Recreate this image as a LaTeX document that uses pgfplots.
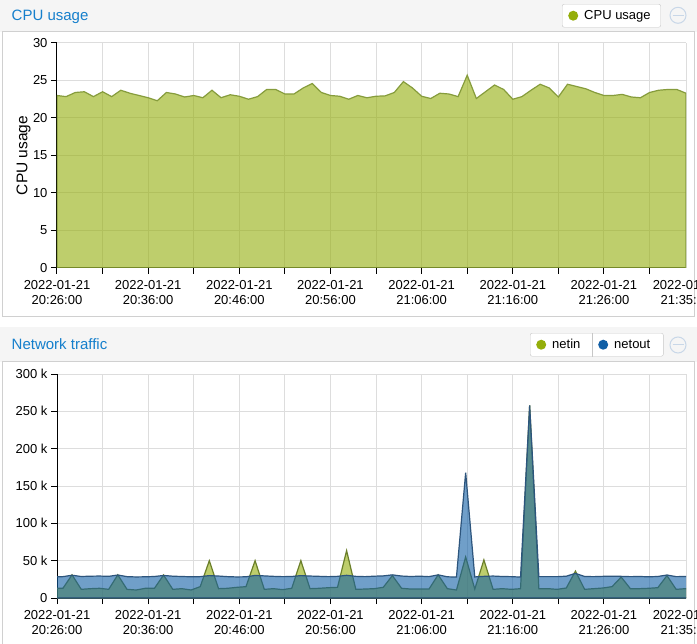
\documentclass[border=0pt]{standalone}
\usepackage{pgfplots}
\pgfplotsset{compat=1.18}
\usepackage{pgfplotstable}
\usepackage{fontspec}
\setmainfont{Liberation Sans}
\definecolor{hdr}{HTML}{F5F5F5}
\definecolor{ttl}{HTML}{157FCC}
\definecolor{brd}{HTML}{D0D0D0}
\definecolor{grd}{HTML}{DDDDDD}
\definecolor{cpuc}{HTML}{94AE0A}
\definecolor{cpuline}{HTML}{869C3C}
\definecolor{outc}{HTML}{115FA6}
\definecolor{outline}{HTML}{2D557D}
\definecolor{inline}{HTML}{6B7F2A}
\definecolor{icon}{HTML}{C8D7E8}

\pgfplotstableread{
x y
0 23.0
1 22.85
2 23.4
3 23.5
4 22.85
5 23.5
6 22.85
7 23.7
8 23.3
9 23.0
10 22.7
11 22.3
12 23.4
13 23.2
14 22.8
15 23.0
16 22.7
17 23.7
18 22.7
19 23.1
20 22.9
21 22.5
22 22.85
23 23.8
24 23.8
25 23.2
26 23.2
27 24.0
28 24.6
29 23.4
30 23.0
31 22.9
32 22.5
33 23.0
34 22.7
35 22.9
36 22.95
37 23.4
38 24.85
39 24.0
40 22.9
41 22.6
42 23.3
43 23.2
44 22.85
45 25.7
46 22.6
47 23.5
48 24.4
49 23.8
50 22.5
51 22.85
52 23.7
53 24.5
54 24.0
55 22.8
56 24.5
57 24.2
58 23.9
59 23.4
60 23.0
61 23.0
62 23.15
63 22.8
64 22.7
65 23.4
66 23.7
67 23.8
68 23.8
69 23.3
}\cpudata

\pgfplotstableread{
x y
-0.35 13.0
0.65 13.0
1.65 31.0
2.66 11.6
3.66 12.5
4.67 13.0
5.67 11.6
6.67 31.0
7.68 11.6
8.68 10.7
9.69 13.0
10.69 13.0
11.69 30.8
12.70 11.6
13.70 12.5
14.71 10.7
15.71 15.2
16.71 50.0
17.72 12.5
18.72 13.0
19.73 14.3
20.73 15.2
21.73 50.0
22.74 11.6
23.74 12.5
24.75 11.2
25.75 13.0
26.75 50.0
27.76 12.5
28.76 13.0
29.77 13.8
30.77 14.3
31.77 63.4
32.78 11.6
33.78 12.0
34.79 12.5
35.79 14.3
36.79 30.0
37.80 13.0
38.80 12.0
39.81 12.0
40.81 12.0
41.81 31.0
42.82 12.5
43.82 10.7
44.83 55.0
45.83 12.0
46.83 51.0
47.84 11.6
48.84 12.5
49.85 11.6
50.85 12.5
51.85 258.0
52.86 12.5
53.86 12.5
54.87 11.6
55.87 13.4
56.87 36.0
57.88 11.6
58.88 12.5
59.89 13.4
60.89 15.2
61.89 28.0
62.90 12.5
63.90 12.5
64.91 13.0
65.91 13.8
66.91 30.0
67.92 11.6
68.92 12.5
69.93 12.5
}\netindata

\pgfplotstableread{
x y
-0.35 28.4
0.65 28.6
1.65 30.5
2.66 28.8
3.66 29.2
4.67 29.4
5.67 29.0
6.67 30.8
7.68 28.6
8.68 28.2
9.69 28.4
10.69 28.8
11.69 30.2
12.70 29.2
13.70 28.8
14.71 28.4
15.71 28.6
16.71 30.0
17.72 29.4
18.72 28.6
19.73 28.2
20.73 28.4
21.73 30.2
22.74 29.6
23.74 29.0
24.75 28.6
25.75 28.8
26.75 30.0
27.76 29.4
28.76 29.0
29.77 28.6
30.77 29.0
31.77 30.4
32.78 29.0
33.78 28.6
34.79 29.2
35.79 29.6
36.79 31.0
37.80 29.4
38.80 28.8
39.81 29.2
40.81 28.6
41.81 31.0
42.82 28.4
43.82 28.0
44.83 168.0
45.83 28.2
46.83 29.0
47.84 29.4
48.84 28.8
49.85 28.6
50.85 28.0
51.85 258.0
52.86 28.6
53.86 28.6
54.87 28.6
55.87 29.2
56.87 33.0
57.88 28.8
58.88 28.6
59.89 29.0
60.89 29.2
61.89 29.0
62.90 28.6
63.90 28.8
64.91 28.4
65.91 28.8
66.91 30.8
67.92 28.6
68.92 28.8
69.93 28.8
}\netoutdata

\pgfplotsset{
  panel/.style={
    scale only axis, width=629pt,
    xmin=0, xmax=69,
    axis x line*=bottom, axis y line*=left,
    axis line style={-, black, line width=1pt},
    tick style={black, line width=1pt},
    major tick length=6pt, tick align=outside,
    grid=major, grid style={grd, line width=1pt},
    xtick={0,5,...,65},
    xticklabels={{2022-01-21\\20:26:00},,{2022-01-21\\20:36:00},,{2022-01-21\\20:46:00},,{2022-01-21\\20:56:00},,{2022-01-21\\21:06:00},,{2022-01-21\\21:16:00},,{2022-01-21\\21:26:00},},
    extra x ticks={69},
    extra x tick labels={{2022-01-21\\21:35:00}},
    extra x tick style={grid=major, tick style={draw=none}},
    xticklabel style={align=center, yshift=-3pt, font=\fontsize{13}{14.5}\selectfont},
    yticklabel style={font=\fontsize{13}{15}\selectfont},
    /pgf/number format/assume math mode=true,
    legend cell align=left,
    legend image code/.code={\path[draw=none, fill=none] (0pt,-11.5pt) rectangle (22pt,11.5pt); \fill[fill opacity=1, draw=none] (11pt,0pt) circle (5pt);},
  }
}

\begin{document}
\begin{tikzpicture}[x=1pt,y=1pt]
\path[use as bounding box] (0,0) rectangle (697,-644);
% top panel
\fill[hdr] (0,0) rectangle (697,-32);
\draw[brd, fill=white, line width=1pt] (2.5,-32) rectangle (694.5,-317);
\node[anchor=base west, text=ttl, font=\fontsize{15}{18}\selectfont, inner sep=0pt] at (11.5,-20.5) {CPU usage};
\draw[icon, line width=1pt] (678,-15.3) circle (8);
\draw[icon, line width=1pt] (672.5,-15.3) -- (683.5,-15.3);
% bottom panel
\fill[hdr] (0,-327) rectangle (697,-362);
\draw[brd, fill=white, line width=1pt] (2.5,-362) rectangle (694.5,-650);
\node[anchor=base west, text=ttl, font=\fontsize{15}{18}\selectfont, inner sep=0pt] at (11.5,-350) {Network traffic};
\draw[icon, line width=1pt] (678,-345) circle (8);
\draw[icon, line width=1pt] (672.5,-345) -- (683.5,-345);

\begin{axis}[panel,
  at={(57pt,-268pt)}, anchor=south west,
  height=225pt,
  ymin=0, ymax=30,
  ytick={0,5,...,30},
  yticklabels={0,5,10,15,20,25,30},
  ylabel={CPU usage},
  ylabel style={at={(axis description cs:-0.0469,0.5)}, anchor=base, font=\fontsize{15.5}{18}\selectfont},
  legend style={at={(axis description cs:0.8029,1.1733)}, anchor=north west,
    draw=black!22, fill=white, rounded corners=2pt,
    inner xsep=0pt, inner ysep=0pt, column sep=0pt,
    nodes={inner sep=0pt}, font=\fontsize{13}{15}\selectfont},
]
\addplot[fill=cpuc, fill opacity=0.6, draw=cpuline, line width=1.2pt] table[x=x,y=y] {\cpudata} \closedcycle;
\addlegendentry{CPU usage\hspace*{10pt}}
\end{axis}

\begin{axis}[panel,
  at={(57pt,-598pt)}, anchor=south west,
  height=224pt,
  ymin=0, ymax=300,
  ytick={0,50,...,300},
  yticklabels={0,50 k,100 k,150 k,200 k,250 k,300 k},
  legend columns=2,
  legend style={at={(axis description cs:0.752,1.183)}, anchor=north west,
    draw=black!22, fill=white, rounded corners=2pt,
    inner xsep=0pt, inner ysep=0pt, column sep=0pt,
    nodes={inner sep=0pt}, font=\fontsize{13}{15}\selectfont},
]
\addplot[fill=cpuc, fill opacity=0.6, draw=inline, line width=1.2pt] table[x=x,y=y] {\netindata} \closedcycle;
\addlegendentry{netin\hspace*{11.8pt}}
\addplot[fill=outc, fill opacity=0.6, draw=outline, line width=1.2pt] table[x=x,y=y] {\netoutdata} \closedcycle;
\addlegendentry{netout\hspace*{13pt}}
\end{axis}
\draw[black!22, line width=1pt] (592.5,-333) -- (592.5,-357);
\end{tikzpicture}
\end{document}
